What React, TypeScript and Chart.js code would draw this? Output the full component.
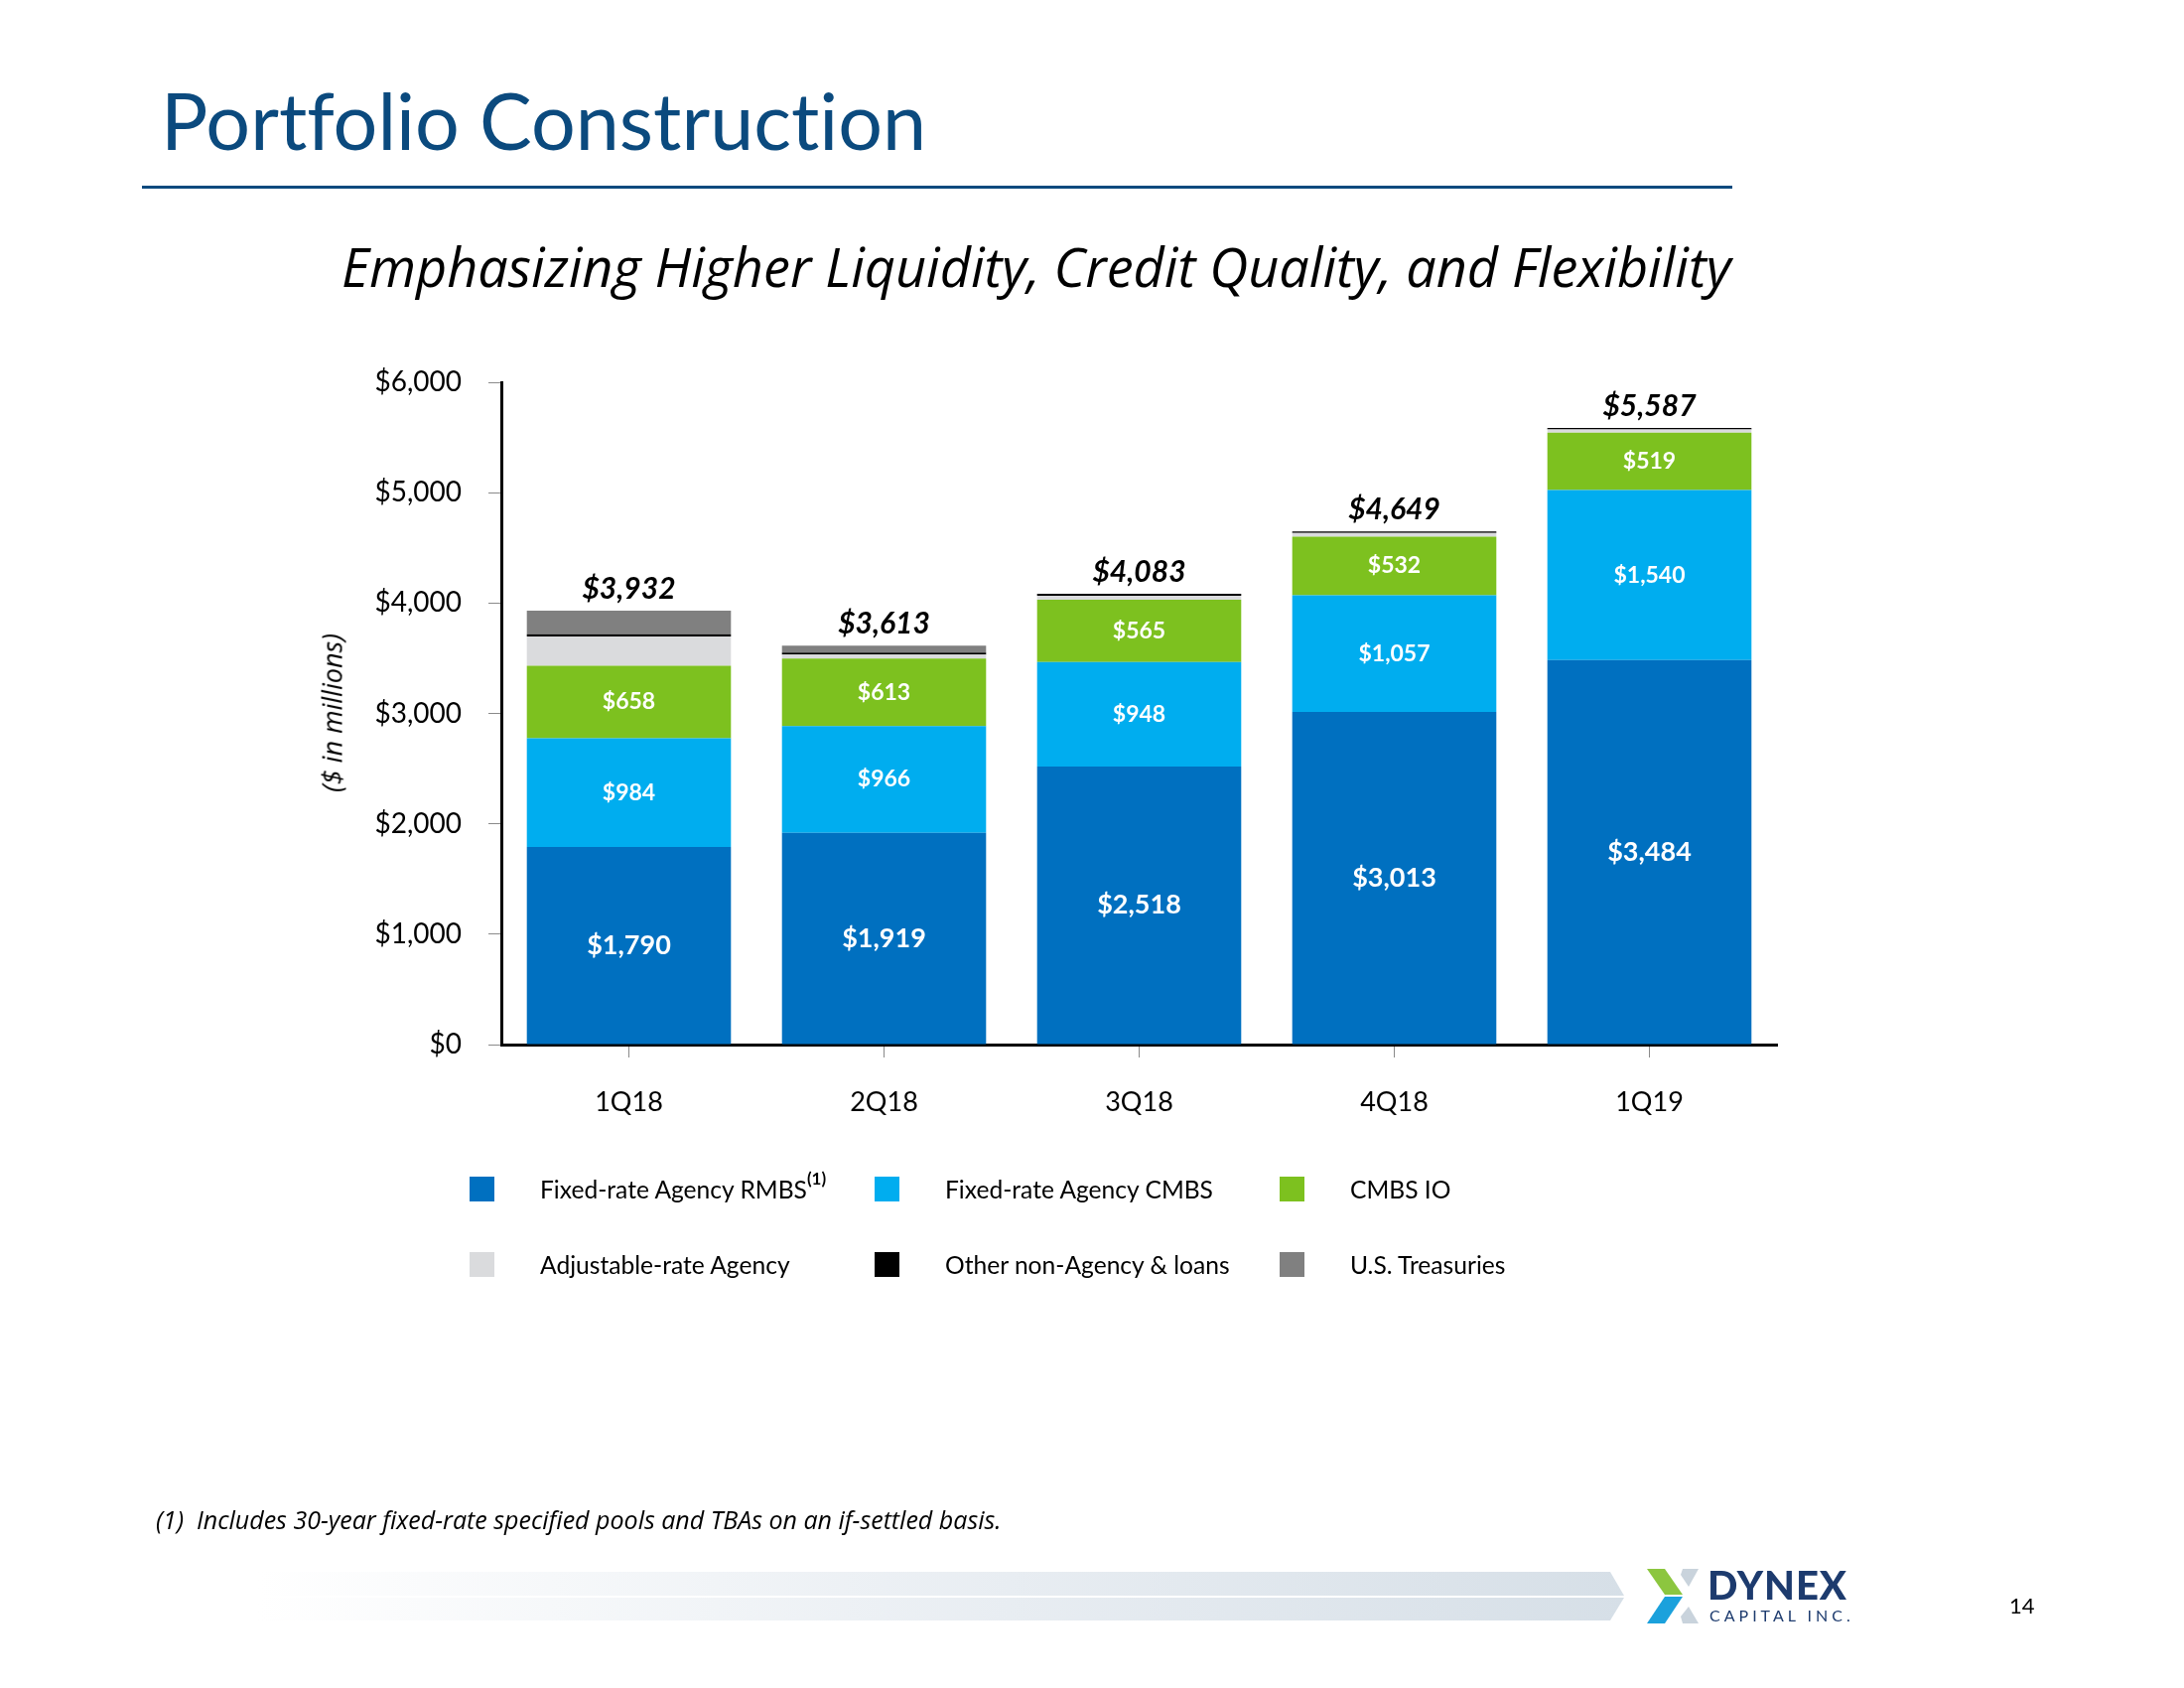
import React, { useEffect, useRef } from "react";
import { Chart, registerables } from "chart.js";

Chart.register(...registerables);

const categories = ["1Q18", "2Q18", "3Q18", "4Q18", "1Q19"];
const fixedRateRMBS = [1790, 1919, 2518, 3013, 3484];
const fixedRateCMBS = [984, 966, 948, 1057, 1540];
const cmbsIO = [658, 613, 565, 532, 519];
const adjustableRate = [265, 36, 34, 32, 30];
const otherNonAgency = [20, 17, 18, 15, 14];
const usTreasuries = [215, 62, 0, 0, 0];
const totals = [3932, 3613, 4083, 4649, 5587];
const yTickValues = [0, 1000, 2000, 3000, 4000, 5000, 6000];

const seriesNames = [
  "Fixed-rate Agency RMBS",
  "Fixed-rate Agency CMBS",
  "CMBS IO",
  "Adjustable-rate Agency",
  "Other non-Agency & loans",
  "U.S. Treasuries",
];
const seriesColors = ["#0070C0", "#00ADEF", "#7DC11F", "#DADBDD", "#000000", "#808080"];

const FONT = "Lato, 'Open Sans', sans-serif";
const FONT2 = "'Open Sans', Lato, sans-serif";
const fmt = (v: number) => "$" + v.toLocaleString("en-US");

const labelPlugin = {
  id: "segLabels",
  afterDatasetsDraw(chart: any) {
    const ctx = chart.ctx;
    ctx.save();
    ctx.textAlign = "center";
    ctx.textBaseline = "middle";
    [0, 1, 2].forEach((di) => {
      const meta = chart.getDatasetMeta(di);
      meta.data.forEach((el: any, i: number) => {
        const v = chart.data.datasets[di].data[i] as number;
        const p = el.getProps(["x", "y", "base"], true);
        ctx.font = di === 0 ? `bold 27px ${FONT}` : `bold 23px ${FONT}`;
        ctx.fillStyle = "#ffffff";
        ctx.fillText(fmt(v), p.x, (p.y + p.base) / 2);
      });
    });
    const last = chart.getDatasetMeta(chart.data.datasets.length - 1);
    last.data.forEach((el: any, i: number) => {
      const p = el.getProps(["x", "y"], true);
      ctx.font = `italic bold 30px ${FONT}`;
      ctx.fillStyle = "#000000";
      ctx.fillText(fmt(totals[i]), p.x, p.y - 22);
    });
    ctx.restore();
  },
};

function ChartCanvas() {
  const ref = useRef<HTMLCanvasElement | null>(null);
  useEffect(() => {
    if (!ref.current) return;
    const seriesData = [fixedRateRMBS, fixedRateCMBS, cmbsIO, adjustableRate, otherNonAgency, usTreasuries];
    const chart = new Chart(ref.current, {
      type: "bar",
      data: {
        labels: categories,
        datasets: seriesData.map((d, i) => ({
          label: seriesNames[i],
          data: d,
          backgroundColor: seriesColors[i],
          borderWidth: 0,
          barPercentage: 0.8,
          categoryPercentage: 1,
        })),
      },
      options: {
        responsive: false,
        animation: false,
        devicePixelRatio: 1,
        layout: { padding: { left: 355, top: 385, right: 410, bottom: 548 } },
        plugins: { legend: { display: false }, tooltip: { enabled: false } },
        scales: {
          x: {
            stacked: true,
            grid: { drawOnChartArea: false, offset: false, tickLength: 13, color: "#8a8a8a", lineWidth: 1 },
            border: { display: true, color: "#000000", width: 3 },
            ticks: { color: "#000000", font: { family: FONT, size: 27 }, padding: 29 },
            afterFit: (s: any) => {
              s.height = 100;
            },
          },
          y: {
            stacked: true,
            min: 0,
            max: 6000,
            afterBuildTicks: (s: any) => {
              s.ticks = yTickValues.map((v) => ({ value: v }));
            },
            grid: { drawOnChartArea: false, tickLength: 13, color: "#8a8a8a", lineWidth: 1 },
            border: { display: true, color: "#000000", width: 3 },
            ticks: {
              color: "#000000",
              font: { family: FONT, size: 28 },
              padding: 27,
              callback: (v: any) => fmt(Number(v)),
            },
            afterFit: (s: any) => {
              s.width = 150;
            },
          },
        },
      },
      plugins: [labelPlugin],
    });
    return () => chart.destroy();
  }, []);
  return (
    <canvas
      ref={ref}
      width={2200}
      height={1700}
      style={{ position: "absolute", left: 0, top: 0, width: 2200, height: 1700 }}
    />
  );
}

const legendCols = [473, 881, 1289];
const legendRows = [1197, 1273];

export default function App() {
  return (
    <div
      style={{
        position: "absolute",
        left: 0,
        top: 0,
        width: 2200,
        height: 1700,
        background: "#ffffff",
        overflow: "hidden",
        fontFamily: FONT,
        fontVariantLigatures: "none",
      }}
    >
      <ChartCanvas />
      <div
        style={{
          position: "absolute",
          left: 162,
          top: 81,
          fontSize: 79,
          lineHeight: 1,
          color: "#0B4A7E",
          whiteSpace: "nowrap",
        }}
      >
        Portfolio Construction
      </div>
      <div style={{ position: "absolute", left: 143, top: 187, width: 1602, height: 3, background: "#0B4A7E" }} />
      <div
        style={{
          position: "absolute",
          left: 344,
          top: 241,
          fontSize: 54,
          lineHeight: 1,
          fontFamily: FONT2,
          fontStyle: "italic",
          color: "#000",
          whiteSpace: "nowrap",
        }}
      >
        Emphasizing Higher Liquidity, Credit Quality, and Flexibility
      </div>
      <div
        style={{
          position: "absolute",
          left: 334,
          top: 718,
          transform: "translate(-50%, -50%) rotate(-90deg)",
          fontSize: 27,
          fontFamily: FONT2,
          fontStyle: "italic",
          color: "#000",
          whiteSpace: "nowrap",
          lineHeight: 1,
        }}
      >
        ($ in millions)
      </div>
      {seriesNames.map((name, i) => {
        const col = i % 3;
        const row = Math.floor(i / 3);
        return (
          <div
            key={name}
            style={{
              position: "absolute",
              left: legendCols[col],
              top: legendRows[row] - 15,
              height: 30,
              display: "flex",
              alignItems: "center",
              whiteSpace: "nowrap",
            }}
          >
            <div style={{ width: 25, height: 25, background: seriesColors[i], marginRight: 46 }} />
            <span style={{ fontSize: 24.6, color: "#000" }}>
              {name}
              {i === 0 ? (
                <sup style={{ fontSize: 17, fontWeight: "bold", verticalAlign: "top", position: "relative", top: -7 }}>
                  (1)
                </sup>
              ) : null}
            </span>
          </div>
        );
      })}
      <div
        style={{
          position: "absolute",
          left: 157,
          top: 1518,
          fontSize: 25,
          fontFamily: FONT2,
          fontStyle: "italic",
          color: "#000",
          whiteSpace: "nowrap",
          lineHeight: 1,
        }}
      >
        (1)&nbsp;&nbsp;Includes 30-year fixed-rate specified pools and TBAs on an if-settled basis.
      </div>
      <div
        style={{
          position: "absolute",
          left: 260,
          top: 1583,
          width: 1376,
          height: 24,
          background: "linear-gradient(90deg, #ffffff 0%, #e8edf2 55%, #d6dfe7 100%)",
          clipPath: "polygon(0 0, 1362px 0, 1376px 100%, 0 100%)",
        }}
      />
      <div
        style={{
          position: "absolute",
          left: 260,
          top: 1609,
          width: 1376,
          height: 23,
          background: "linear-gradient(90deg, #ffffff 0%, #e8edf2 55%, #d6dfe7 100%)",
          clipPath: "polygon(0 0, 1376px 0, 1362px 100%, 0 100%)",
        }}
      />
      <svg style={{ position: "absolute", left: 1655, top: 1578 }} width={60} height={60}>
        <polygon points="4,2 22,2 40,28 22,28" fill="#8CC63F" />
        <polygon points="22,30 40,30 22,57 4,57" fill="#1BA1DC" />
        <polygon points="40,2 56,2 46,20 38,8" fill="#c9d3dc" />
        <polygon points="46,40 56,57 40,57 38,50" fill="#c9d3dc" />
      </svg>
      <div
        style={{
          position: "absolute",
          left: 1720,
          top: 1576,
          fontSize: 40,
          fontWeight: 900,
          color: "#1D3B6E",
          lineHeight: 1,
          letterSpacing: 1,
        }}
      >
        DYNEX
      </div>
      <div
        style={{
          position: "absolute",
          left: 1722,
          top: 1619,
          fontSize: 16,
          color: "#1D3B6E",
          lineHeight: 1,
          letterSpacing: 4,
        }}
      >
        CAPITAL INC.
      </div>
      <div style={{ position: "absolute", left: 2024, top: 1606, fontSize: 22, color: "#000", lineHeight: 1 }}>14</div>
    </div>
  );
}
